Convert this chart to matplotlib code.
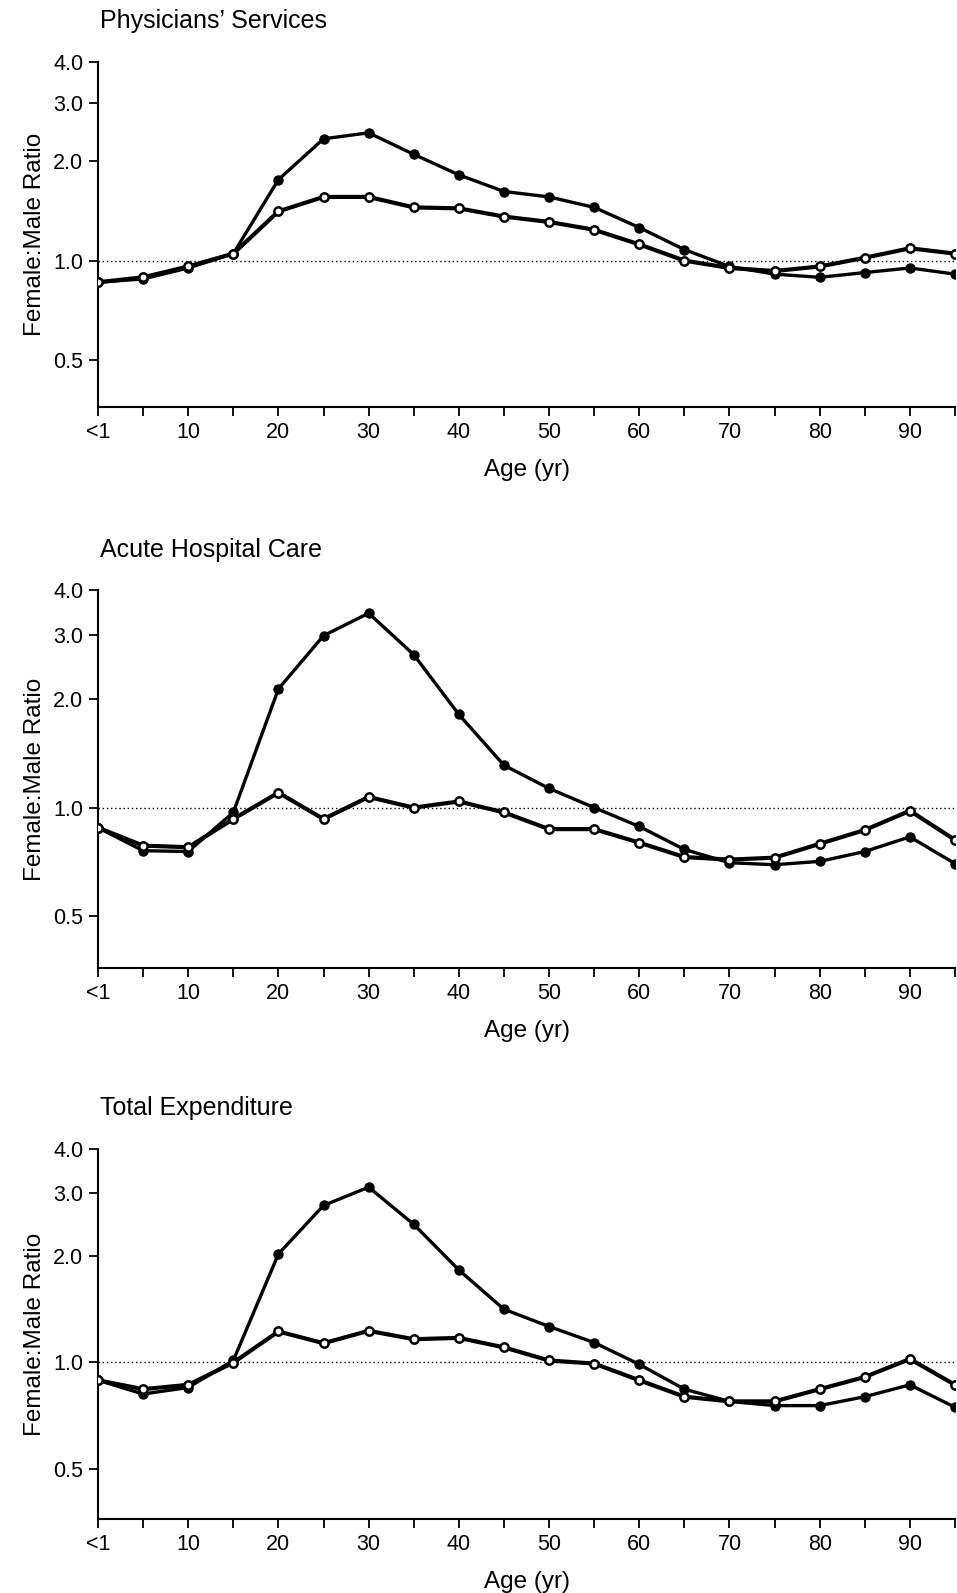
import matplotlib
matplotlib.use("Agg")
import matplotlib.pyplot as plt
from matplotlib.ticker import FixedLocator, NullLocator

plt.rcParams['font.family'] = ['Liberation Sans', 'DejaVu Sans']

# age groups (0 = "<1")
ages = [0, 5, 10, 15, 20, 25, 30, 35, 40, 45, 50, 55, 60, 65, 70, 75, 80, 85, 90, 95]

# Physicians' Services
phys_filled = [0.86, 0.88, 0.95, 1.05, 1.76, 2.34, 2.44, 2.10, 1.82, 1.62,
               1.56, 1.45, 1.26, 1.08, 0.96, 0.91, 0.89, 0.92, 0.95, 0.91]
phys_open = [0.86, 0.89, 0.96, 1.05, 1.41, 1.56, 1.56, 1.45, 1.44, 1.36,
             1.31, 1.24, 1.12, 1.00, 0.95, 0.93, 0.96, 1.02, 1.09, 1.05]

# Acute Hospital Care
hosp_filled = [0.88, 0.76, 0.756, 0.97, 2.13, 2.99, 3.45, 2.65, 1.81, 1.31,
               1.13, 1.00, 0.887, 0.766, 0.704, 0.695, 0.71, 0.756, 0.83, 0.70]
hosp_open = [0.88, 0.785, 0.777, 0.93, 1.10, 0.93, 1.07, 1.00, 1.04, 0.97,
             0.872, 0.872, 0.80, 0.73, 0.718, 0.727, 0.794, 0.867, 0.98, 0.814]

# Total Expenditure
tot_filled = [0.888, 0.812, 0.847, 1.01, 2.02, 2.77, 3.12, 2.45, 1.82, 1.41,
              1.26, 1.135, 0.985, 0.838, 0.774, 0.753, 0.753, 0.798, 0.862, 0.745]
tot_open = [0.888, 0.838, 0.862, 0.996, 1.22, 1.13, 1.225, 1.16, 1.17, 1.10,
            1.01, 0.99, 0.888, 0.798, 0.774, 0.774, 0.838, 0.907, 1.02, 0.862]

titles = ["Physicians\u2019 Services", "Acute Hospital Care", "Total Expenditure"]
panels = [(phys_filled, phys_open), (hosp_filled, hosp_open), (tot_filled, tot_open)]

ytick_vals = [0.5, 1.0, 2.0, 3.0, 4.0]
ytick_labels = ["0.5", "1.0", "2.0", "3.0", "4.0"]
xtick_labels = ["<1", "", "10", "", "20", "", "30", "", "40", "", "50", "",
                "60", "", "70", "", "80", "", "90", ""]

W, H = 957, 1593
fig = plt.figure(figsize=(W / 100, H / 100), dpi=100)

# axes boxes in pixels: (top, bottom)
boxes = [(62, 407), (590, 968), (1149, 1519)]
left, right = 98, 955
title_y = [28, 557, 1115]

for i, (top, bottom) in enumerate(boxes):
    ax = fig.add_axes([left / W, 1 - bottom / H, (right - left) / W, (bottom - top) / H])
    filled, opn = panels[i]
    ax.axhline(1.0, color='black', linestyle=(0, (1, 2)), linewidth=1.0, zorder=1)
    ax.plot(ages, filled, color='black', linewidth=2.4, marker='o', markersize=6.5,
            markerfacecolor='black', markeredgecolor='black', zorder=3)
    ax.plot(ages, opn, color='black', linewidth=3.0, marker='o', markersize=6,
            markerfacecolor='white', markeredgecolor='black', markeredgewidth=1.8, zorder=4)
    ax.set_yscale('log')
    ax.set_ylim(0.36, 4.0)
    ax.set_xlim(0, 95)
    ax.yaxis.set_major_locator(FixedLocator(ytick_vals))
    ax.yaxis.set_minor_locator(NullLocator())
    ax.set_yticklabels(ytick_labels)
    ax.set_xticks(ages)
    ax.set_xticklabels(xtick_labels)
    ax.spines['top'].set_visible(False)
    ax.spines['right'].set_visible(False)
    for s in ('left', 'bottom'):
        ax.spines[s].set_linewidth(1.5)
    ax.tick_params(axis='both', direction='out', length=6.5, width=1.3,
                   labelsize=15.5, pad=4)
    ax.set_ylabel("Female:Male Ratio", fontsize=17.5, labelpad=5)
    ax.set_xlabel("Age (yr)", fontsize=17.5, labelpad=12)
    fig.text(100 / W, 1 - title_y[i] / H, titles[i], fontsize=18,
             ha='left', va='baseline')

fig.savefig("out.png", dpi=100)
